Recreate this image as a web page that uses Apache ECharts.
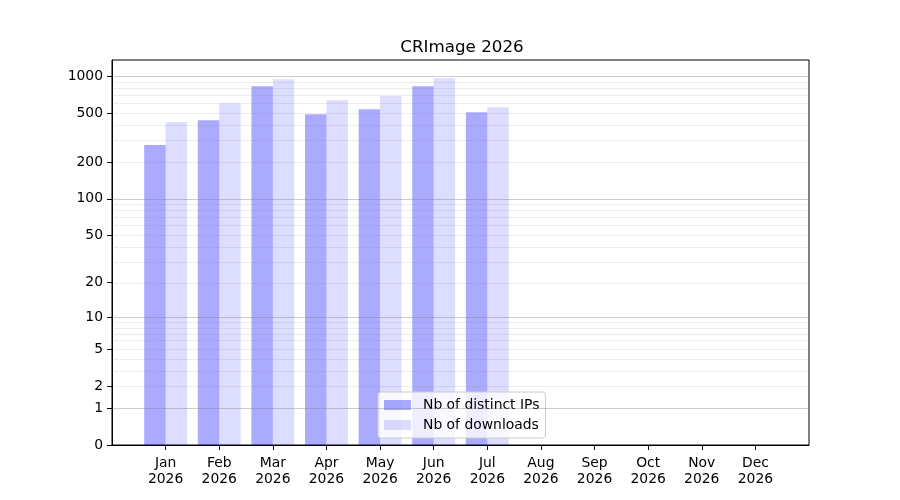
<!DOCTYPE html>
<html>
<head>
<meta charset="utf-8">
<script src="https://cdn.jsdelivr.net/npm/echarts@6/dist/echarts.min.js"></script>
<style>
  html, body { margin: 0; padding: 0; background: #fff; }
  #chart { width: 900px; height: 500px; }
</style>
</head>
<body>
<div id="chart"></div>
<script>
// data (Aug-Dec have no downloads yet)
var months = ['Jan', 'Feb', 'Mar', 'Apr', 'May', 'Jun', 'Jul', 'Aug', 'Sep', 'Oct', 'Nov', 'Dec'];
var year = '2026';
var distinctIps = [275, 439, 830, 491, 539, 830, 509, 0, 0, 0, 0, 0];
var downloads = [423, 603, 946, 638, 691, 964, 559, 0, 0, 0, 0, 0];
var yTickLabels = [0, 1, 2, 5, 10, 20, 50, 100, 200, 500, 1000];

// y axis is log10(1 + x)
var fwd = function (v) { return Math.log10(1 + v); };
var inv = function (t) { return Math.pow(10, t) - 1; };

// one empty slot on each side, like the matplotlib x limits
var cats = [''].concat(months.map(function (m) { return m + '\n' + year; }), ['']);
var pad = function (arr) {
  return ['-'].concat(arr.map(fwd), ['-']);
};

var maxVal = Math.max.apply(null, distinctIps.concat(downloads));
var yMax = fwd(maxVal) * 1.05;

// grid lines: major at decades, minor in between
var majorLines = [];
var minorLines = [];
for (var d = 1; d <= 1000; d *= 10) {
  majorLines.push({ yAxis: fwd(d) });
  for (var k = 2; k <= 9; k++) {
    if (fwd(d * k) < yMax) minorLines.push({ yAxis: fwd(d * k) });
  }
}

var chart = echarts.init(document.getElementById('chart'));
var font = 'DejaVu Sans';
var showCat = function (index, value) { return value !== ''; };

chart.setOption({
  animation: false,
  backgroundColor: '#fff',
  textStyle: { fontFamily: font },
  title: {
    text: 'CRImage ' + year,
    left: 457,
    top: 34,
    textAlign: 'center',
    textStyle: { fontFamily: font, fontSize: 16.7, fontWeight: 'normal', color: '#000' }
  },
  legend: {
    orient: 'vertical',
    left: 378,
    top: 392,
    padding: [6, 6, 6, 6],
    itemGap: 6,
    itemWidth: 27,
    itemHeight: 10,
    backgroundColor: 'rgba(255,255,255,0.8)',
    borderColor: '#cccccc',
    borderWidth: 1,
    borderRadius: 3,
    textStyle: { fontFamily: font, fontSize: 13.9, color: '#000', padding: [0, 0, 0, 7] },
    data: [
      { name: 'Nb of distinct IPs', icon: 'rect' },
      { name: 'Nb of downloads', icon: 'rect' }
    ]
  },
  grid: {
    left: 112, right: 91, top: 60, bottom: 55,
    show: true, borderColor: '#000', borderWidth: 1, backgroundColor: 'transparent'
  },
  xAxis: {
    type: 'category',
    data: cats,
    boundaryGap: false,
    axisLine: { lineStyle: { color: '#000', width: 1 } },
    axisTick: { length: 5, interval: showCat, lineStyle: { color: '#000' } },
    axisLabel: {
      interval: showCat, margin: 10, color: '#000',
      fontFamily: font, fontSize: 13.9, lineHeight: 16
    },
    splitLine: { show: false }
  },
  yAxis: {
    type: 'value',
    min: 0,
    max: yMax,
    axisLine: { show: true, lineStyle: { color: '#000', width: 1 } },
    axisTick: { show: true, length: 5, customValues: yTickLabels.map(fwd), lineStyle: { color: '#000' } },
    axisLabel: {
      customValues: yTickLabels.map(fwd),
      margin: 9, color: '#000', fontFamily: font, fontSize: 13.9,
      formatter: function (t) { return String(Math.round(inv(t))); }
    },
    splitLine: { show: false }
  },
  series: [
    {
      name: 'Nb of distinct IPs',
      type: 'bar',
      data: pad(distinctIps),
      barWidth: '40%',
      barGap: '0%',
      itemStyle: { color: 'rgba(0,0,255,0.333)' },
      markLine: {
        silent: true, symbol: 'none', animation: false,
        label: { show: false },
        lineStyle: { color: 'rgba(128,128,128,0.14)', width: 1, type: 'solid' },
        data: minorLines
      }
    },
    {
      name: 'Nb of downloads',
      type: 'bar',
      data: pad(downloads),
      barWidth: '40%',
      barGap: '0%',
      itemStyle: { color: 'rgba(0,0,255,0.133)' },
      markLine: {
        silent: true, symbol: 'none', animation: false,
        label: { show: false },
        lineStyle: { color: 'rgba(128,128,128,0.4)', width: 1, type: 'solid' },
        data: majorLines
      }
    }
  ]
});
</script>
</body>
</html>
